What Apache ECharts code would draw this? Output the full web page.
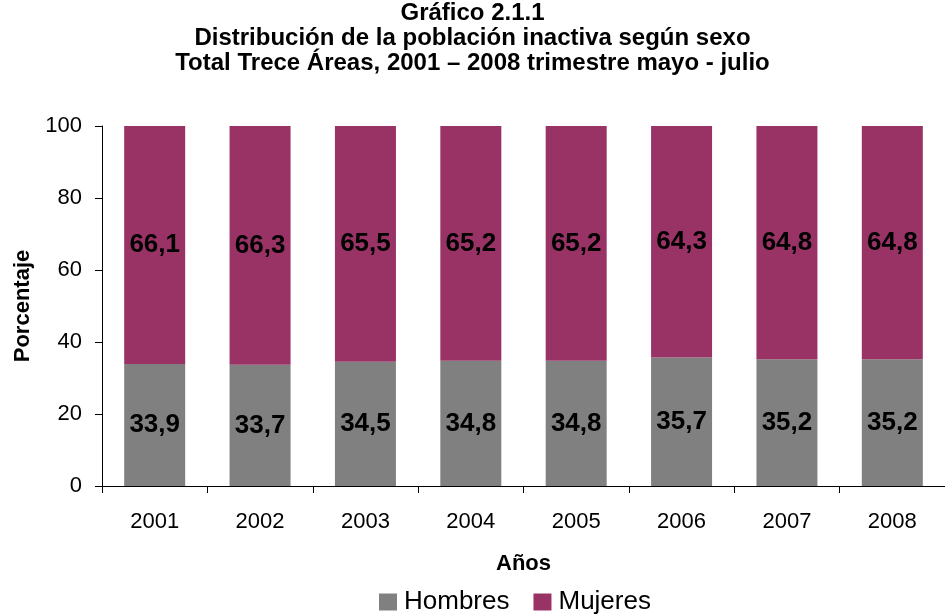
<!DOCTYPE html>
<html>
<head>
<meta charset="utf-8">
<script src="https://cdn.jsdelivr.net/npm/echarts@6/dist/echarts.min.js"></script>
<style>
  html, body { margin: 0; padding: 0; background: #fff; }
  #chart { width: 945px; height: 616px; }
</style>
</head>
<body>
<div id="chart"></div>
<script>
var years = ['2001', '2002', '2003', '2004', '2005', '2006', '2007', '2008'];
var hombres = [33.9, 33.7, 34.5, 34.8, 34.8, 35.7, 35.2, 35.2];
var mujeres = [66.1, 66.3, 65.5, 65.2, 65.2, 64.3, 64.8, 64.8];

function makeOption() {
    var font = 'Liberation Sans, Arial, sans-serif';
    var label = {
        show: true,
        position: 'inside',
        color: '#000',
        fontFamily: font,
        fontSize: 26,
        fontWeight: 'bold',
        formatter: function (p) {
            return p.value.toFixed(1).replace('.', ',');
        }
    };
    var option = {
        animation: false,
        title: {
            text: 'Gráfico 2.1.1\nDistribución de la población inactiva según sexo\nTotal Trece Áreas, 2001 – 2008 trimestre mayo - julio',
            left: 'center',
            top: -4,
            textStyle: {
                fontFamily: font,
                fontSize: 24,
                fontWeight: 'bold',
                lineHeight: 25,
                color: '#000'
            }
        },
        legend: {
            bottom: -4,
            left: 374,
            itemWidth: 18,
            itemHeight: 17,
            itemGap: 24,
            icon: 'rect',
            textStyle: { fontFamily: font, fontSize: 26, color: '#000', padding: [0, 0, 0, 2] },
            data: ['Hombres', 'Mujeres']
        },
        grid: {
            left: 102,
            top: 126,
            width: 849,
            height: 360
        },
        xAxis: {
            type: 'category',
            data: years,
            name: 'Años',
            nameLocation: 'middle',
            nameGap: 67,
            nameTextStyle: { fontFamily: font, fontSize: 22, fontWeight: 'bold', color: '#000' },
            axisLine: { lineStyle: { color: '#000', width: 1 } },
            axisTick: { show: true, alignWithLabel: false, length: 7, lineStyle: { color: '#000' } },
            axisLabel: { fontFamily: font, fontSize: 22, color: '#000', margin: 25 }
        },
        yAxis: {
            type: 'value',
            min: 0,
            max: 100,
            interval: 20,
            name: 'Porcentaje',
            nameLocation: 'middle',
            nameGap: 68,
            nameRotate: 90,
            nameTextStyle: { fontFamily: font, fontSize: 22, fontWeight: 'bold', color: '#000' },
            axisLine: { show: true, lineStyle: { color: '#000', width: 1 } },
            axisTick: { show: true, length: 7, lineStyle: { color: '#000' } },
            axisLabel: { fontFamily: font, fontSize: 22, color: '#000', margin: 20 },
            splitLine: { show: false }
        },
        series: [{
            name: 'Hombres',
            type: 'bar',
            stack: 'total',
            barWidth: 61,
            itemStyle: { color: '#808080' },
            label: label,
            data: hombres
        }, {
            name: 'Mujeres',
            type: 'bar',
            stack: 'total',
            barWidth: 61,
            itemStyle: { color: '#993366' },
            label: label,
            data: mujeres
        }]
    };
    return option;
}

var myChart = echarts.init(document.getElementById('chart'));
myChart.setOption(makeOption());
</script>
</body>
</html>
